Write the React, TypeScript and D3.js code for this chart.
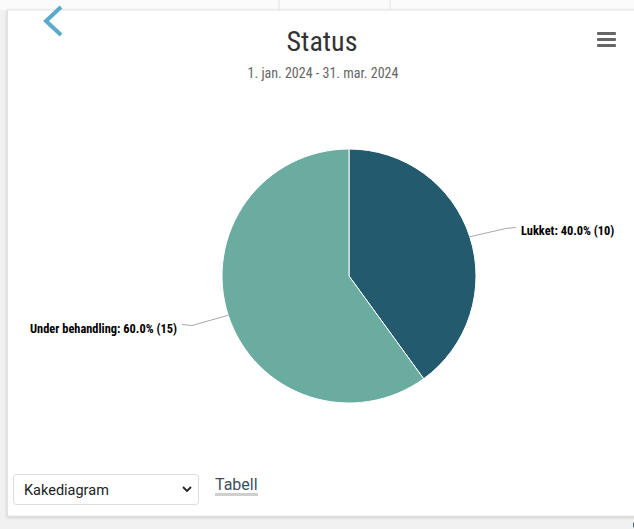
import React from "react";
import * as d3 from "d3";

const categories = ["Lukket", "Under behandling"];
const values = [10, 15];
const sliceColors = ["#245a6d", "#6aaca0"];
const titleText = "Status";
const subtitleText = "1. jan. 2024 - 31. mar. 2024";
const selectText = "Kakediagram";
const linkText = "Tabell";

const W = 634;
const H = 529;
const FONT = "'Roboto Condensed', 'Liberation Sans Narrow', Roboto, sans-serif";
const FONT2 = "Roboto, sans-serif";

export default function App() {
  const cx = 349;
  const cy = 276;
  const r = 127;
  const total = d3.sum(values);
  const pie = d3.pie<number>().sort(null).value((d) => d);
  const arcs = pie(values);
  const arcGen = d3.arc<d3.PieArcDatum<number>>().innerRadius(0).outerRadius(r);

  return (
    <svg
      width={W}
      height={H}
      style={{ position: "absolute", left: 0, top: 0, display: "block" }}
      fontFamily={FONT}
    >
      <defs>
        <filter id="sh" x="-5%" y="-5%" width="110%" height="110%">
          <feDropShadow dx="0" dy="1" stdDeviation="1.5" floodColor="#000" floodOpacity="0.18" />
        </filter>
      </defs>
      <rect x={0} y={0} width={W} height={H} fill="#f1f1f1" />
      {/* top strip remnants */}
      <rect x={0} y={0} width={W} height={10} fill="#fbfbfb" />
      <line x1={279} y1={0} x2={279} y2={9} stroke="#e4e4e4" />
      <line x1={390} y1={0} x2={390} y2={9} stroke="#e4e4e4" />
      {/* card */}
      <rect x={7.5} y={10} width={W} height={506} fill="#fff" stroke="#e2e2e2" filter="url(#sh)" />
      {/* back chevron */}
      <polyline points="61,7 46,21 61,35" fill="none" stroke="#5aaacb" strokeWidth={4} />
      {/* title */}
      <text x={322} y={51} textAnchor="middle" fontSize={28} fill="#333">
        {titleText}
      </text>
      <text x={323} y={78} textAnchor="middle" fontSize={14} fill="#666">
        {subtitleText}
      </text>
      {/* hamburger */}
      {[0, 1, 2].map((i) => (
        <rect key={i} x={597} y={32 + i * 6} width={19} height={3} fill="#666" rx={1} />
      ))}
      {/* pie */}
      <g transform={`translate(${cx},${cy})`}>
        {arcs.map((a, i) => (
          <path key={i} d={arcGen(a) || ""} fill={sliceColors[i]} stroke="#fff" strokeWidth={1} />
        ))}
        {arcs.map((a, i) => {
          const mid = (a.startAngle + a.endAngle) / 2;
          const sx = Math.sin(mid);
          const sy = -Math.cos(mid);
          const right = sx >= 0;
          const ex = r * sx;
          const ey = r * sy;
          const ly = (r + 30) * sy;
          const lx = (right ? 1 : -1) * (r + 40);
          const tx = (right ? 1 : -1) * (r + 45);
          const pct = ((values[i] / total) * 100).toFixed(1);
          return (
            <g key={"l" + i}>
              <path
                d={`M${ex},${ey} L${lx - (right ? 10 : -10)},${ly + 1} L${lx},${ly}`}
                fill="none"
                stroke="#aaa"
                strokeWidth={1}
              />
              <text
                x={tx}
                y={ly + 8}
                textAnchor={right ? "start" : "end"}
                fontSize={12.4}
                fontWeight="bold"
                fill="#000"
              >
                {`${categories[i]}: ${pct}% (${values[i]})`}
              </text>
            </g>
          );
        })}
      </g>
      {/* select */}
      <rect x={13.5} y={474.5} width={185} height={30} rx={3} fill="#fff" stroke="#dcdcdc" />
      <text x={24} y={495} fontSize={14.5} fill="#222" fontFamily={FONT2}>
        {selectText}
      </text>
      <polyline points="183,487 187,491 191,487" fill="none" stroke="#222" strokeWidth={1.8} />
      {/* link */}
      <text x={215} y={490} fontSize={16} fill="#3d4f60" fontFamily={FONT2}>
        {linkText}
      </text>
      <rect x={215} y={493} width={43} height={3} fill="#cfcfcf" />
      {/* bottom corner dot */}
      <circle cx={637} cy={525} r={4} fill="#1f5a6e" />
    </svg>
  );
}
